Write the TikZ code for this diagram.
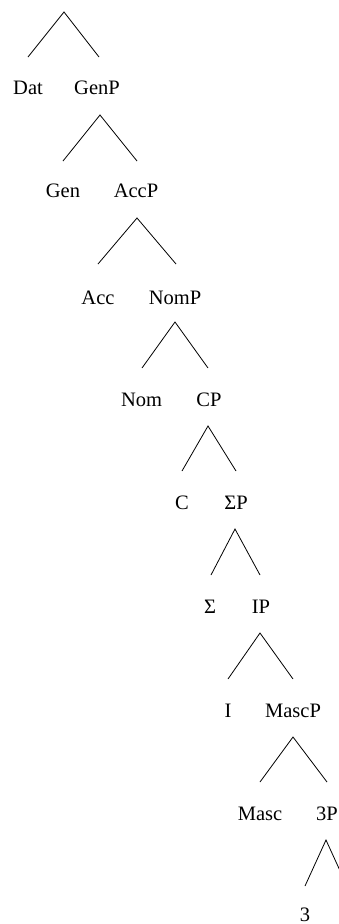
\documentclass[tikz,border=0pt]{standalone}
\usepackage{fontspec}
\setmainfont{Liberation Serif}
\begin{document}
\begin{tikzpicture}[x=1pt,y=-1pt,
  lab/.style={anchor=base,inner sep=0pt,font=\fontsize{20.5}{24}\selectfont},
  branch/.style={line width=0.8pt,black}]
\useasboundingbox (0,0) rectangle (339,924);
\clip (0,0) rectangle (339,924);
% apexes and branch ends
\coordinate (a1) at (64,12);  \coordinate (l1) at (28,57);  \coordinate (r1) at (99,57);
\coordinate (a2) at (100,115);\coordinate (l2) at (63,161); \coordinate (r2) at (137,161);
\coordinate (a3) at (137,218);\coordinate (l3) at (98,264); \coordinate (r3) at (176,264);
\coordinate (a4) at (175,322);\coordinate (l4) at (142,368);\coordinate (r4) at (208,368);
\coordinate (a5) at (208,426);\coordinate (l5) at (182,471);\coordinate (r5) at (236,471);
\coordinate (a6) at (235,529);\coordinate (l6) at (211,575);\coordinate (r6) at (260,575);
\coordinate (a7) at (260,633);\coordinate (l7) at (228,679);\coordinate (r7) at (293,679);
\coordinate (a8) at (293,737);\coordinate (l8) at (260,782);\coordinate (r8) at (327,782);
\coordinate (a9) at (326,840);\coordinate (l9) at (305,886);\coordinate (r9) at (347,886);
% labels
\node[lab] (dat)  at (28,94)   {Dat};
\node[lab] (genp) at (97,94)   {GenP};
\node[lab] (gen)  at (63,197)  {Gen};
\node[lab] (accp) at (136,197) {AccP};
\node[lab] (acc)  at (98,304)  {Acc};
\node[lab] (nomp) at (175,304) {NomP};
\node[lab] (nom)  at (141.5,406) {Nom};
\node[lab] (cp)   at (209,406) {CP};
\node[lab] (c)    at (182,509) {C};
\node[lab] (sigp) at (236,509) {ΣP};
\node[lab] (sig)  at (210,613) {Σ};
\node[lab] (ip)   at (261,613) {IP};
\node[lab] (i)    at (228,717) {I};
\node[lab] (mascp) at (293,717) {MascP};
\node[lab] (masc) at (260,820) {Masc};
\node[lab] (tp)   at (327,820) {3P};
\node[lab] (three) at (305,921) {3};
% branches
\foreach \k in {1,...,9}{
  \draw[branch] (l\k) -- (a\k) -- (r\k);
}
\end{tikzpicture}
\end{document}
